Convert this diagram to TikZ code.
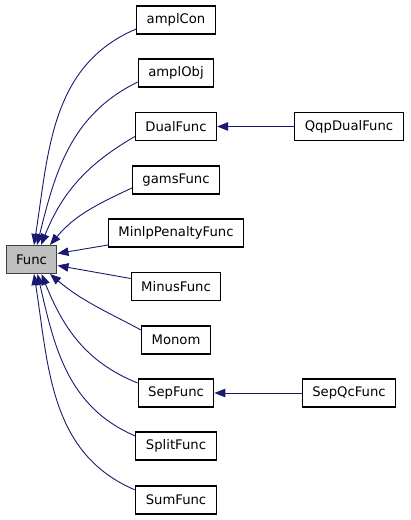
\documentclass[tikz,border=0pt]{standalone}
\usepackage{fontspec}
\setmainfont{DejaVu Sans}
\usepackage{tikz}
\usetikzlibrary{arrows.meta}
\definecolor{fcEdge}{HTML}{191970}
\definecolor{fcRoot}{HTML}{BFBFBF}
\tikzset{
  fcbox/.style={rectangle, draw=black, line width=1.1pt, minimum height=28pt,
                inner xsep=10pt, inner ysep=0pt, font=\fontsize{13.2}{15}\selectfont},
  fcroot/.style={fcbox, fill=fcRoot, draw=black!75},
  fcinh/.style={draw=fcEdge, line width=0.9pt, -{Triangle[length=11pt,width=8.5pt]}},
}

\begin{document}
\begin{tikzpicture}[x=1pt,y=1pt]
  \useasboundingbox (0,0) rectangle (411,-520);
  \node[fcroot] (Func) at (31.5,-259.5) {Func};
  \node[fcbox] (amplCon) at (176,-20) {amplCon};
  \node[fcbox] (amplObj) at (176,-73) {amplObj};
  \node[fcbox] (DualFunc) at (176,-126.5) {DualFunc};
  \node[fcbox] (gamsFunc) at (176,-180) {gamsFunc};
  \node[fcbox] (MinlpPenaltyFunc) at (176,-233) {MinlpPenaltyFunc};
  \node[fcbox] (MinusFunc) at (176,-286.5) {MinusFunc};
  \node[fcbox] (Monom) at (176,-340) {Monom};
  \node[fcbox] (SepFunc) at (176,-393) {SepFunc};
  \node[fcbox] (SplitFunc) at (176,-446) {SplitFunc};
  \node[fcbox] (SumFunc) at (176,-500) {SumFunc};
  \node[fcbox] (QqpDualFunc) at (349,-126.5) {QqpDualFunc};
  \node[fcbox] (SepQcFunc) at (349,-393) {SepQcFunc};
  % upper children
  \draw[fcinh] ([yshift=-9pt]amplCon.west) to[out=203,in=81] ([xshift=2.5pt]Func.north);
  \draw[fcinh] ([yshift=-9pt]amplObj.west) to[out=206,in=76] ([xshift=5.5pt]Func.north);
  \draw[fcinh] ([yshift=-10pt]DualFunc.west) to[out=210,in=68] ([xshift=9.5pt]Func.north);
  \draw[fcinh] ([yshift=-8pt]gamsFunc.west) to[out=205,in=50] ([xshift=18.5pt]Func.north);
  \draw[fcinh] ([yshift=-12pt]MinlpPenaltyFunc.west) -- ([yshift=6pt]Func.east);
  % lower children
  \draw[fcinh] ([yshift=8pt]MinusFunc.west) -- ([yshift=-6pt]Func.east);
  \draw[fcinh] ([yshift=10pt]Monom.west) to[out=152,in=-40] ([xshift=18.5pt]Func.south);
  \draw[fcinh] ([yshift=10pt]SepFunc.west) to[out=158,in=-68] ([xshift=10pt]Func.south);
  \draw[fcinh] ([yshift=10pt]SplitFunc.west) to[out=157,in=-77] ([xshift=6pt]Func.south);
  \draw[fcinh] ([yshift=10pt]SumFunc.west) to[out=157,in=-81] ([xshift=2.5pt]Func.south);
  % second level
  \draw[fcinh] (QqpDualFunc) -- (DualFunc);
  \draw[fcinh] (SepQcFunc) -- (SepFunc);
\end{tikzpicture}
\end{document}
